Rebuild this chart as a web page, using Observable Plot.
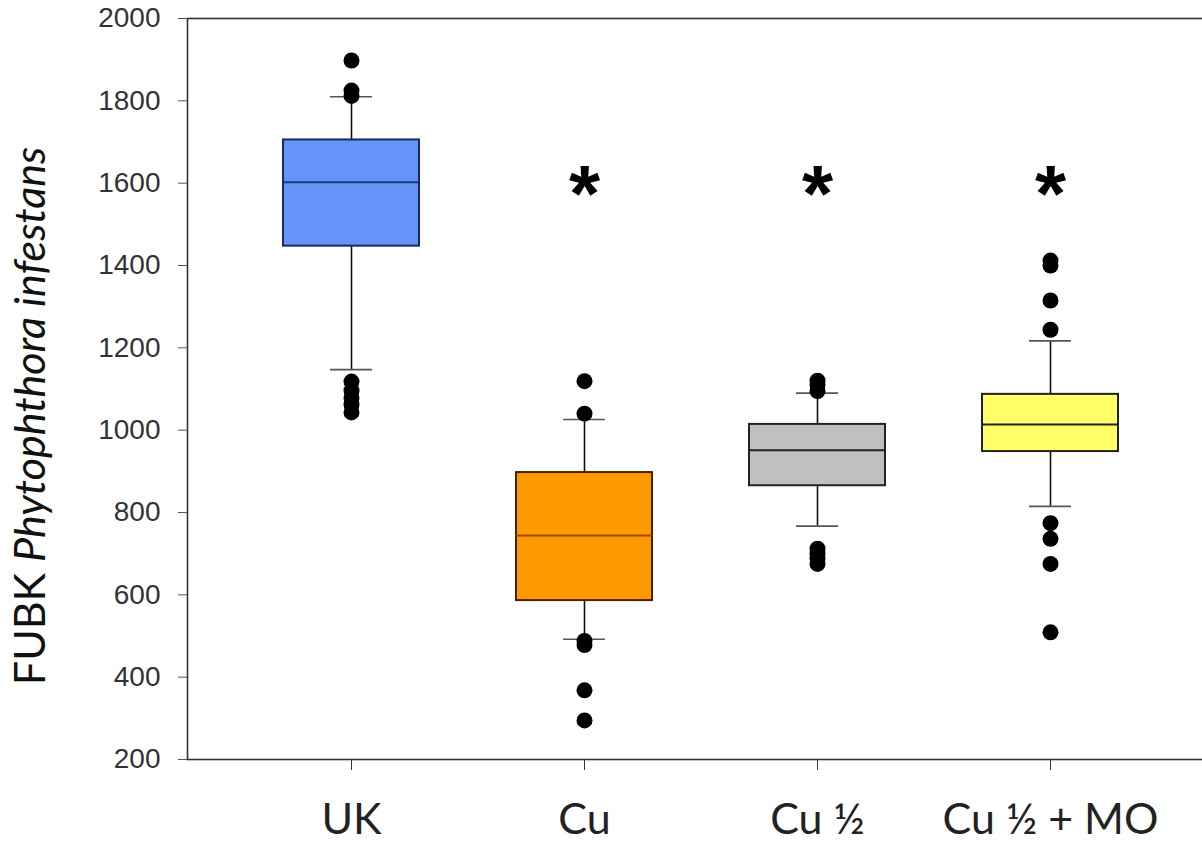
<!DOCTYPE html>
<html>
<head>
<meta charset="utf-8">
<script src="https://cdn.jsdelivr.net/npm/d3@7"></script>
<script src="https://cdn.jsdelivr.net/npm/@observablehq/plot@0.6"></script>
<style>
  html, body { margin: 0; padding: 0; background: #fff; }
  #chart svg { display: block; }
</style>
</head>
<body>
<div id="chart"></div>
<script>
// ---- data ----
const categories = ["UK", "Cu", "Cu ½", "Cu ½ + MO"];
const q1          = [1447, 586, 865, 948];
const median      = [1602, 744, 951, 1014];
const q3          = [1705, 897, 1014, 1087];
const whiskerLow  = [1147, 492, 767, 815];
const whiskerHigh = [1810, 1026, 1090, 1217];
const outliers = [
  [1898, 1825, 1812, 1118, 1096, 1078, 1062, 1043],
  [1119, 1040, 488, 478, 368, 295],
  [1120, 1110, 1095, 712, 700, 688, 675],
  [1412, 1400, 1315, 1244, 774, 736, 675, 509]
];
const starCategories = ["Cu", "Cu ½", "Cu ½ + MO"];
const starValue = 1600;
const yTicks = [200, 400, 600, 800, 1000, 1200, 1400, 1600, 1800, 2000];
const boxFill   = ["#6594f8", "#ff9900", "#c0c0c0", "#ffff66"];
const boxStroke = ["#1b2a5c", "#4a2000", "#222222", "#222222"];
const medStroke = ["#1f3a88", "#a04800", "#222222", "#222222"];

// ---- build tables ----
const boxes = categories.map((c, i) => ({
  cat: c, q1: q1[i], med: median[i], q3: q3[i],
  lo: whiskerLow[i], hi: whiskerHigh[i],
  fill: boxFill[i], stroke: boxStroke[i], medStroke: medStroke[i]
}));
const points = categories.flatMap((c, i) => outliers[i].map(v => ({cat: c, v})));
const stars = starCategories.map(c => ({cat: c, v: starValue}));

const chart = Plot.plot({
  width: 1202,
  height: 846,
  marginTop: 18,
  marginBottom: 87,
  marginLeft: 187,
  marginRight: -12,
  style: {background: "#fff", overflow: "visible"},
  x: {type: "band", domain: categories, paddingInner: 0.415, paddingOuter: 0.404, label: null},
  y: {domain: [200, 2000], label: null},
  marks: [
    // whiskers
    Plot.ruleX(boxes, {x: "cat", y1: "lo", y2: "q1", stroke: "#111", strokeWidth: 1.6}),
    Plot.ruleX(boxes, {x: "cat", y1: "q3", y2: "hi", stroke: "#111", strokeWidth: 1.6}),
    // whisker caps
    Plot.tickY(boxes, {x: "cat", y: "lo", stroke: "#555", strokeWidth: 1.6, insetLeft: 47, insetRight: 47}),
    Plot.tickY(boxes, {x: "cat", y: "hi", stroke: "#555", strokeWidth: 1.6, insetLeft: 47, insetRight: 47}),
    // boxes
    Plot.barY(boxes, {x: "cat", y1: "q1", y2: "q3", fill: d => d.fill, stroke: d => d.stroke, strokeWidth: 2}),
    // medians
    Plot.tickY(boxes, {x: "cat", y: "med", stroke: d => d.medStroke, strokeWidth: 2}),
    // outliers
    Plot.dot(points, {x: "cat", y: "v", r: 8, fill: "#000", stroke: "none"}),
    // significance stars
    Plot.text(stars, {x: "cat", y: "v", text: () => "*", fontSize: 80, fontWeight: "bold",
      fontFamily: "Liberation Sans, Arial, sans-serif", fill: "#000", dy: 12}),
    // frame lines
    Plot.frame({stroke: "#333", strokeWidth: 1.6}),
    // axes
    Plot.axisY({ticks: yTicks, tickFormat: d => String(d), tickSize: 9, tickPadding: 18, fontSize: 28, stroke: "#555",
      fontFamily: "Liberation Sans, Arial, sans-serif", fill: "#333", label: null}),
    Plot.axisX({tickSize: 11, tickPadding: 33, fontSize: 43, stroke: "#333",
      fontFamily: "Lato, sans-serif", fill: "#222", label: null})
  ]
});

document.getElementById("chart").appendChild(chart);

// y-axis title with italic species name
const title = d3.select(chart).append("text")
  .attr("transform", "translate(45,416) rotate(-90)")
  .attr("text-anchor", "middle")
  .attr("font-family", "Lato, sans-serif")
  .attr("font-size", 43)
  .attr("fill", "#111");
title.append("tspan").text("FUBK ");
title.append("tspan").attr("font-style", "italic").text("Phytophthora infestans");
</script>
</body>
</html>
